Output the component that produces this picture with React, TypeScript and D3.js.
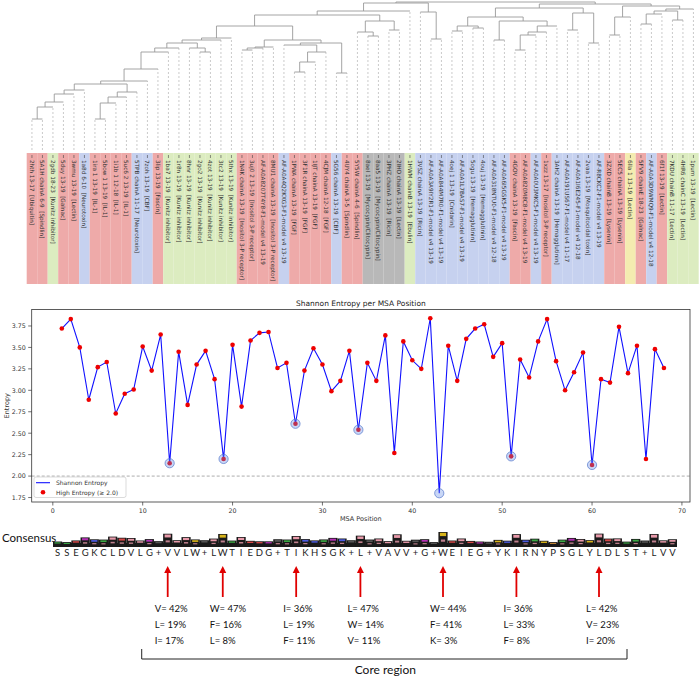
import React from "react"
import * as d3 from "d3"

// ---- dendrogram leaves (left to right) ----
const leafLabels = [
  "2hth 13-17  [Ubiquitin]", "5A1H chainA 6-9  [Spindlin]", "2gdb 18-23  [Kunitz inhibitor]",
  "5duy 13-19  [Galnac]", "3wmu 13-19  [Lectin]", "1a8d 6-10  [Neurotoxin]", "1ira 1 13-19  [IL-1]",
  "5bow 1 13-19  [IL-1]", "1i1b 1 12-18  [IL-1]", "5uc6 2 13-19  [IL-1]", "5TPB chainA 11-17  [Neurotoxin]",
  "7zoh 13-19  [CBF]", "3lip 13-19  [Fascin]", "1ba7 13-19  [Kunitz inhibitor]", "1r8n 13-19  [Kunitz inhibitor]",
  "8hnr 13-19  [Kunitz inhibitor]", "2go2 13-19  [Kunitz inhibitor]", "4zot 13-19  [Kunitz inhibitor]",
  "3tc2 13-19  [Kunitz inhibitor]", "5thx 13-19  [Kunitz inhibitor]", "1N4K chainA 13-19  [Inositol 3-P receptor]",
  "3uj0 2 13-19  [Inositol 3-P receptor]", "AF-A0A8207T4Y8-F1-model v4 13-19", "8MU1 chainA 13-19  [Inositol 3-P receptor]",
  "AF-A0A4Q2KXG3-F1-model v4 13-19", "1PWA chainA 13-19  [FGF]", "3F1R chainA 13-19  [FGF]", "1IJT chainA 13-19  [FGF]",
  "4CJM chainA 12-18  [FGF]", "5G56 chainA 13-19  [CBF]", "4UY4 chainA 3-5  [Spindlin]", "5Y5W chainA 4-6  [Spindlin]",
  "8aeI 13-19  [Mycocypin/Clitocypin]", "8aa5 13-19  [Mycocypin/Clitocypin]", "3PHZ chainA 13-19  [Ricin]",
  "2IHO chainA 13-19  [Lectin]", "1HWM chainB 13-19  [Ebulin]", "3VSZ chainA 13-19  [Ricin]",
  "AF-A0A3A9IY2R1-F1-model v4 13-19", "AF-A0A844M7R0-F1-model v4 13-19", "4oej 1 13-19  [Cnidarin]",
  "AF-A0A1L7BAS7-F1-model v4 13-19", "5ogu 13-19  [Hemagglutinin]", "4ouj 13-19  [Hemagglutinin]",
  "AF-A0A318NTU0-F1-model v4 12-18", "AF-A0A6I5GSK5-F1-model v4 13-19", "4GOV chainA 13-19  [Fascin]",
  "AF-A0A820M8C8-F1-model v4 13-19", "AF-A0A0U3MKC5-F1-model v4 13-19", "1xzz 13-17  [Inositol 3-P receptor]",
  "3AH2 chainA 13-19  [Hemagglutinin]", "AF-A0A191US67-F1-model v4 11-17", "AF-A0A1I6E245-F1-model v4 12-18",
  "2vaa 13-19  [Mosquitocidal toxin]", "AF-R8CKC2-F1-model v4 13-19", "3ZXD chainB 13-19  [Lysenin]",
  "5EC5 chainA 13-19  [Lysenin]", "6lla 1 13-19  [Lectin]", "5FV9 chainE 18-23  [Galnac]",
  "AF-A0A3D9WMQ9-F1-model v4 12-18", "6f1f 13-19  [Lectin]", "7KDU chainB 11-17  [Lectin]",
  "4HR6 chainC 13-19  [Lectin]", "1pum 13-19  [Lectin]",
]
const leafGroups = "rrgrrbrrrrbbrgggggggrrrrbrrrrbrrkkkkgbbbbbbbbbrrbrbbbbbrryrbrggg".split("")

// linkage: [child a, child b, distance]; ids >= 64 are earlier merges
const merges = [
  [0, 1, 31], [64, 2, 43], [65, 3, 48], [6, 7, 31], [67, 8, 47], [68, 9, 53], [66, 4, 56],
  [70, 5, 60], [69, 10, 58], [71, 72, 66], [73, 11, 69], [74, 12, 81], [75, 13, 98], [16, 17, 98],
  [15, 77, 102], [76, 14, 102], [79, 78, 107], [80, 18, 110], [81, 19, 112], [20, 21, 100],
  [83, 22, 102], [84, 23, 103], [25, 26, 78], [86, 27, 88], [87, 28, 98], [24, 88, 105],
  [29, 30, 77], [89, 90, 107], [85, 91, 110], [82, 92, 124], [32, 33, 114], [31, 94, 118],
  [34, 35, 120], [95, 96, 129], [93, 97, 135], [98, 36, 139], [38, 39, 111], [37, 100, 138],
  [99, 101, 147], [40, 41, 119], [42, 43, 122], [103, 104, 124], [46, 47, 100], [106, 48, 115],
  [107, 49, 118], [108, 50, 124], [44, 45, 110], [110, 109, 129], [105, 111, 133], [51, 52, 120],
  [53, 54, 107], [113, 114, 137], [112, 115, 142], [55, 56, 115], [117, 57, 133], [58, 59, 126],
  [119, 60, 136], [61, 62, 130], [120, 121, 139], [122, 63, 141], [118, 123, 144], [116, 124, 146],
  [102, 125, 148],
]

// ---- Shannon entropy per MSA position (1..68) ----
const entropy = [
  3.72, 3.83, 3.50, 2.89, 3.27, 3.33, 2.73, 2.96, 3.01, 3.51, 3.23, 3.65, 2.15, 3.45, 2.83, 3.30,
  3.46, 3.13, 2.20, 3.53, 2.81, 3.58, 3.67, 3.68, 3.26, 3.32, 2.61, 3.23, 3.49, 3.30, 2.99, 3.11,
  3.46, 2.54, 3.32, 3.11, 3.64, 2.27, 3.57, 3.35, 3.25, 3.84, 1.80, 3.52, 3.11, 3.60, 3.72, 3.77,
  3.39, 3.55, 2.23, 3.36, 3.15, 3.57, 3.83, 3.34, 3.00, 3.21, 3.44, 2.13, 3.13, 3.09, 3.74, 3.20,
  3.52, 2.20, 3.48, 3.26,
]
const yTicks = [1.75, 2.0, 2.25, 2.5, 2.75, 3.0, 3.25, 3.5, 3.75]
const xTicks = [0, 10, 20, 30, 40, 50, 60, 70]
const threshold = 2.0

const consensus = "SSEGKCLDVLG+VVLW+LWTIEDG+TIKHSGK+L+VAVV+G+WEIEG+YKIRNYPSGLYLDLST+LVV".split("")

// core positions with their top residues
const corePositions = [13, 19, 27, 34, 43, 51, 60]
const coreResidues = [
  ["V", "L", "I"], ["W", "F", "L"], ["I", "L", "F"], ["L", "W", "V"],
  ["W", "F", "K"], ["I", "L", "F"], ["L", "V", "I"],
]
const corePercents = [
  [42, 19, 17], [47, 16, 8], [36, 19, 11], [47, 14, 11],
  [44, 41, 3], [36, 33, 8], [42, 23, 20],
]

const groupFill: Record<string, string> = {
  r: "#eeaaa9", g: "#dcecc0", b: "#c6d1ef", k: "#b8b8b8", y: "#f4ecb0",
}
const aaColor = (c: string) => {
  if ("WFY".includes(c)) return "#d8b41a"
  if ("VLIMA".includes(c)) return "#e89aaa"
  if ("G".includes(c)) return "#b530b5"
  if ("KRH".includes(c)) return "#4a5ae0"
  if ("DE".includes(c)) return "#d84848"
  if ("P".includes(c)) return "#c88a3a"
  if ("+".includes(c)) return "#555"
  return "#3aa844"
}

const sans = "DejaVu Sans, sans-serif"
const cal = "Lato, Open Sans, sans-serif"

export default function App() {
  // dendrogram geometry
  const leafX = d3.scaleBand<number>().domain(d3.range(leafLabels.length)).range([26.7, 698.7])
  const distY = d3.scaleLinear().domain([0, 148]).range([150, 2])
  const nodeX: number[] = leafLabels.map((_, i) => (leafX(i) as number) + leafX.bandwidth() / 2)
  const nodeD: number[] = leafLabels.map(() => 0)
  const segs: { x1: number; y1: number; x2: number; y2: number; dashed: boolean }[] = []
  merges.forEach(([a, b, d]) => {
    ;[a, b].forEach((c) => {
      segs.push({ x1: nodeX[c], x2: nodeX[c], y1: distY(nodeD[c]), y2: distY(d), dashed: c < leafLabels.length })
    })
    segs.push({ x1: nodeX[a], x2: nodeX[b], y1: distY(d), y2: distY(d), dashed: false })
    nodeX.push((nodeX[a] + nodeX[b]) / 2)
    nodeD.push(d)
  })

  // entropy chart
  const pos = d3.range(1, entropy.length + 1)
  const x = d3.scaleLinear().domain([-2.35, 70.9]).range([31.7, 690])
  const y = d3.scaleLinear().domain([1.698, 3.942]).range([502, 309.5])
  const linePath = d3.line<number>().x((_, i) => x(pos[i])).y((d) => y(d))(entropy) as string
  const [px0, px1] = x.range()
  const [py0, py1] = y.range()

  // logo
  const lx = d3.scaleBand<number>().domain(pos).range([53, 677])
  const lc = (p: number) => (lx(p) as number) + lx.bandwidth() / 2
  const logoH = d3.scaleLinear().domain([4.32, 1.8]).range([2.5, 15])
  const logoBase = 547

  return (
    <>
      <style>{`body{margin:0}`}</style>
      <svg width={700} height={676} style={{ display: "block", background: "#fff" }}>
        {/* label boxes */}
        {leafLabels.map((lab, i) => (
          <g key={lab}>
            <rect x={leafX(i)} y={153} width={leafX.bandwidth()} height={131} fill={groupFill[leafGroups[i]]} />
            <line x1={nodeX[i]} x2={nodeX[i]} y1={155} y2={158} stroke="#444" strokeWidth={0.6} />
            <text
              transform={`translate(${nodeX[i] - 2},${160}) rotate(90)`}
              fontFamily={sans}
              fontSize={5.7}
              fill="#333"
              style={{ whiteSpace: "pre" }}
            >
              {lab}
            </text>
          </g>
        ))}
        {/* dendrogram */}
        {segs.map((s, i) => (
          <line
            key={i}
            x1={s.x1} x2={s.x2} y1={s.y1} y2={s.y2}
            stroke={s.dashed ? "#b5b5b5" : "#9a9a9a"}
            strokeWidth={s.dashed ? 0.7 : 0.9}
            strokeDasharray={s.dashed ? "2,2" : undefined}
          />
        ))}

        {/* entropy chart */}
        <text x={(px0 + px1) / 2} y={306} textAnchor="middle" fontFamily={sans} fontSize={7.5} fill="#222">
          Shannon Entropy per MSA Position
        </text>
        <line x1={px0} x2={px1} y1={y(threshold)} y2={y(threshold)} stroke="#888" strokeWidth={0.7} strokeDasharray="3,2" />
        <path d={linePath} fill="none" stroke="#1010ff" strokeWidth={1.1} />
        {entropy.map((v, i) =>
          v >= threshold ? <circle key={i} cx={x(pos[i])} cy={y(v)} r={2.3} fill="#ee0000" /> : null
        )}
        {corePositions.map((p) => (
          <circle key={p} cx={x(p)} cy={y(entropy[p - 1])} r={4.6} fill="rgba(100,140,230,0.35)" stroke="#5577cc" strokeWidth={0.7} />
        ))}
        <rect x={px0} y={py1} width={px1 - px0} height={py0 - py1} fill="none" stroke="#333" strokeWidth={0.8} />
        {yTicks.map((t) => (
          <g key={t}>
            <line x1={px0 - 3.5} x2={px0} y1={y(t)} y2={y(t)} stroke="#333" strokeWidth={0.7} />
            <text x={px0 - 6} y={y(t) + 2.3} textAnchor="end" fontFamily={sans} fontSize={6.3} fill="#333">
              {t.toFixed(2)}
            </text>
          </g>
        ))}
        {xTicks.map((t) => (
          <g key={t}>
            <line x1={x(t)} x2={x(t)} y1={py0} y2={py0 + 3.5} stroke="#333" strokeWidth={0.7} />
            <text x={x(t)} y={py0 + 11} textAnchor="middle" fontFamily={sans} fontSize={6.3} fill="#333">
              {t}
            </text>
          </g>
        ))}
        <text x={(px0 + px1) / 2} y={521} textAnchor="middle" fontFamily={sans} fontSize={6.5} fill="#333">
          MSA Position
        </text>
        <text transform={`translate(9,${(py0 + py1) / 2}) rotate(-90)`} textAnchor="middle" fontFamily={sans} fontSize={6.5} fill="#333">
          Entropy
        </text>
        {/* legend */}
        <rect x={34} y={477} width={92} height={20.5} rx={2} fill="#fff" stroke="#ccc" strokeWidth={0.7} />
        <line x1={36} x2={50} y1={482.7} y2={482.7} stroke="#1010ff" strokeWidth={1.1} />
        <text x={56} y={485} fontFamily={sans} fontSize={6} fill="#333">Shannon Entropy</text>
        <circle cx={43} cy={492.3} r={2.3} fill="#ee0000" />
        <text x={56} y={494.5} fontFamily={sans} fontSize={6} fill="#333">High Entropy (≥ 2.0)</text>

        {/* consensus logo */}
        <text x={2} y={542} fontFamily={cal} fontSize={11.5} fill="#111">Consensus</text>
        <rect x={lx.range()[0]} y={logoBase - 4} width={lx.range()[1] - lx.range()[0]} height={4} fill="#1a1a1a" />
        {pos.map((p, i) => {
          const h = logoH(entropy[i])
          const bw = lx.bandwidth()
          const x0 = lx(p) as number
          return (
            <g key={p}>
              <rect x={x0} y={logoBase - h} width={bw} height={h} fill="#1a1a1a" />
              <rect x={x0 + 1.5} y={logoBase - h + 0.8} width={bw - 3} height={Math.max(0.8, h * 0.22)} fill={aaColor(consensus[i])} />
              {h > 7 ? (
                <rect x={x0 + 2.5} y={logoBase - h * 0.5} width={bw - 5} height={h * 0.15} fill="#e89aaa" opacity={0.8} />
              ) : null}
              <text x={lc(p)} y={556} textAnchor="middle" fontFamily={cal} fontSize={9.5} fill="#222">
                {consensus[i]}
              </text>
            </g>
          )
        })}

        {/* core arrows and residue percentages */}
        {corePositions.map((p, k) => {
          const cx = lc(p)
          return (
            <g key={p}>
              <line x1={cx} x2={cx} y1={597} y2={572} stroke="#e00000" strokeWidth={1.8} />
              <path d={`M${cx - 3.5},${573} L${cx},${566} L${cx + 3.5},${573} Z`} fill="#e00000" />
              {coreResidues[k].map((r, j) => (
                <text key={r + j} x={cx - 13} y={612 + j * 16} fontFamily={cal} fontSize={9.5} fill="#111">
                  {`${r}= ${corePercents[k][j]}%`}
                </text>
              ))}
            </g>
          )
        })}
        <path
          d={`M${lc(corePositions[0]) - 26},649 V659 H${lc(corePositions[corePositions.length - 1]) + 28} V649`}
          fill="none" stroke="#222" strokeWidth={1}
        />
        <text x={(lc(corePositions[0]) + lc(corePositions[corePositions.length - 1])) / 2 + 2} y={674} textAnchor="middle" fontFamily={cal} fontSize={12} fill="#111">
          Core region
        </text>
      </svg>
    </>
  )
}
